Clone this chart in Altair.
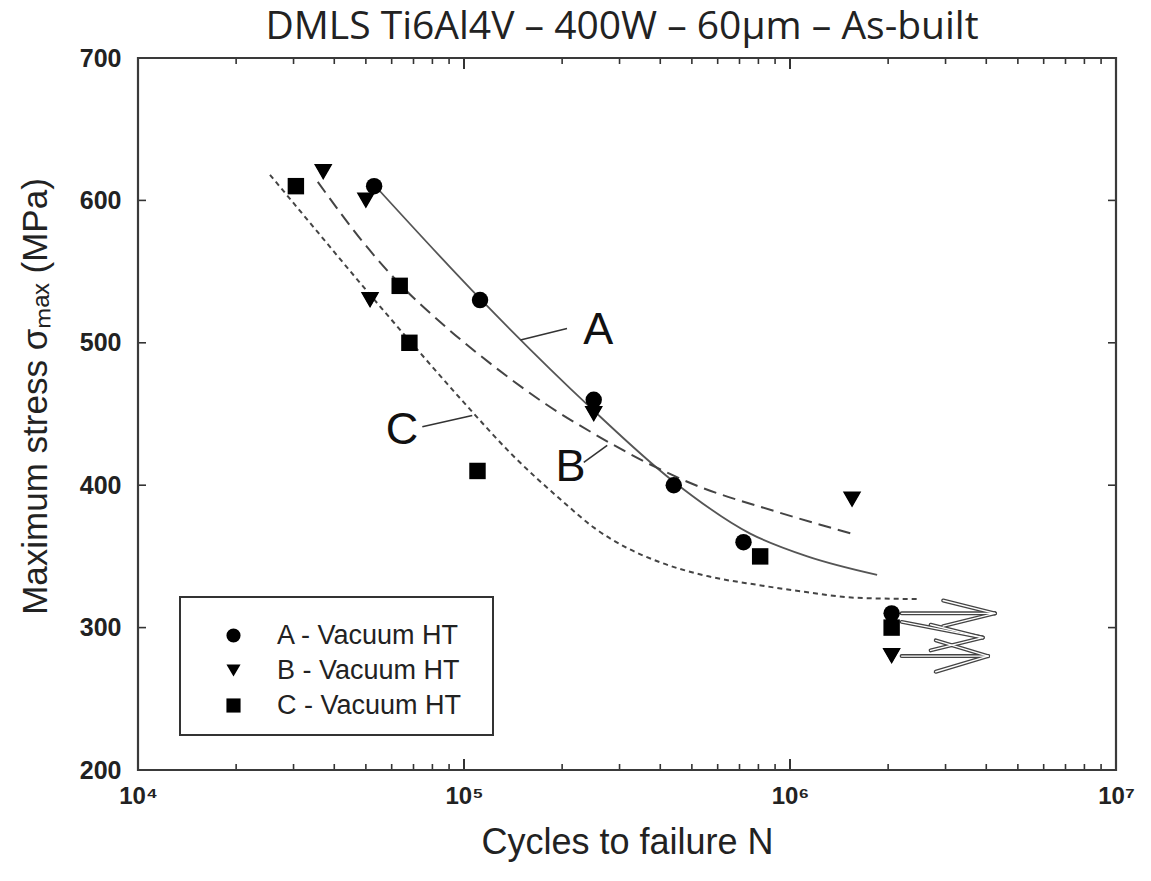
import altair as alt
import pandas as pd

# ---------------- text ----------------
TITLE = "DMLS Ti6Al4V – 400W – 60μm – As-built"
X_TITLE = "Cycles to failure N"
Y_TITLE = "Maximum stress σₘₐₓ (MPa)"
SERIES = ["A - Vacuum HT", "B - Vacuum HT", "C - Vacuum HT"]
SHAPES = ["circle", "triangle-down", "square"]

# ---------------- measured points ----------------
a_cycles = [5.3e4, 1.12e5, 2.5e5, 4.4e5, 7.2e5, 2.05e6]
a_stress = [610, 530, 460, 400, 360, 310]
b_cycles = [3.7e4, 5.0e4, 5.15e4, 2.5e5, 1.55e6, 2.05e6]
b_stress = [620, 600, 530, 450, 390, 280]
c_cycles = [3.05e4, 6.35e4, 6.8e4, 1.1e5, 8.1e5, 2.05e6]
c_stress = [610, 540, 500, 410, 350, 300]

# ---------------- fitted curves ----------------
curve_a_cycles = [5.3e4, 1.12e5, 2.43e5, 4.37e5, 7.55e5, 1.13e6, 1.85e6]
curve_a_stress = [611, 531, 455, 403, 366, 350, 337]
curve_b_cycles = [3.56e4, 5.01e4, 6.31e4, 8.91e4, 1.26e5, 1.78e5, 2.51e5, 3.55e5, 5.01e5, 8.91e5, 1.6e6]
curve_b_stress = [613, 568, 542, 510, 482, 457, 436, 417, 401, 382, 365]
curve_c_cycles = [2.54e4, 3.55e4, 5.01e4, 7.08e4, 1.0e5, 1.41e5, 2.0e5, 2.51e5, 3.16e5, 3.98e5,
                  5.62e5, 7.94e5, 1.12e6, 1.58e6, 2.51e6]
curve_c_stress = [618, 578, 537, 497, 458, 421, 389, 370, 356, 346, 336, 330, 325, 321, 320]

# ---------------- curve labels and leaders ----------------
label_text = ["A", "B", "C"]
label_cycles = [2.58e5, 2.12e5, 6.45e4]
label_stress = [509, 413, 439]
leader_x1 = [1.49e5, 2.33e5, 7.45e4]
leader_y1 = [502, 416, 441]
leader_x2 = [2.07e5, 2.75e5, 1.06e5]
leader_y2 = [510, 428, 449]

# ---------------- run-out arrows (A, C, B) ----------------
arrow_x0 = [2.2e6, 2.2e6, 2.2e6]
arrow_y0 = [310, 304, 280]
arrow_xt = [4.25e6, 3.9e6, 4.05e6]
arrow_yt = [310, 293, 280]
arm_xb = [2.95e6, 2.7e6, 2.8e6]
arm_up = [319, 302, 291]
arm_lo = [301, 284, 269]

# ---------------- axes ----------------
x_tick_values = [1e4, 1e5, 1e6, 1e7]
x_tick_labels = ["10⁴", "10⁵", "10⁶", "10⁷"]
x_minor_ticks = [m * 10 ** k for k in (4, 5, 6) for m in range(2, 10)]
y_tick_values = [200, 300, 400, 500, 600, 700]

W, H = 978, 712
FONT = "Liberation Sans"

label_expr = ""
for v, t in zip(x_tick_values[:-1], x_tick_labels[:-1]):
    label_expr += f"datum.value < {v * 3.0} ? '{t}' : "
label_expr += f"'{x_tick_labels[-1]}'"

xscale = alt.Scale(type="log", domain=[1e4, 1e7], nice=False)
yscale = alt.Scale(domain=[200, 700], nice=False, zero=False)
xaxis = alt.Axis(values=x_tick_values, labelExpr=label_expr, ticks=False, domain=False,
                 grid=False, labelFont=FONT, labelFontSize=24, labelFontWeight="bold",
                 labelColor="#222", labelPadding=14, title=X_TITLE, titleFont=FONT,
                 titleFontSize=36, titleFontWeight="normal", titleColor="#222",
                 titleY=72, titleBaseline="middle", labelFlush=False)
yaxis = alt.Axis(values=y_tick_values, ticks=False, domain=False, grid=False,
                 labelFont=FONT, labelFontSize=25, labelFontWeight="bold", labelColor="#222",
                 labelPadding=17, title=Y_TITLE, titleFont=FONT, titleFontSize=35,
                 titleFontWeight="normal", titleColor="#222", titleX=-103, titleY=338,
                 titleAngle=270, titleAlign="center", titleBaseline="middle", labelFlush=False)


def X(field):
    return alt.X(f"{field}:Q", scale=xscale, axis=xaxis)


def Y(field):
    return alt.Y(f"{field}:Q", scale=yscale, axis=yaxis)


# data frames
pts = pd.DataFrame({
    "n": a_cycles + b_cycles + c_cycles,
    "s": a_stress + b_stress + c_stress,
    "series": [SERIES[0]] * len(a_cycles) + [SERIES[1]] * len(b_cycles) + [SERIES[2]] * len(c_cycles),
})
ptsB = pd.DataFrame({"n": b_cycles, "s": b_stress})
cA = pd.DataFrame({"n": curve_a_cycles, "s": curve_a_stress})
cB = pd.DataFrame({"n": curve_b_cycles, "s": curve_b_stress})
cC = pd.DataFrame({"n": curve_c_cycles, "s": curve_c_stress})
labels = pd.DataFrame({"n": label_cycles, "s": label_stress, "t": label_text})
leaders = pd.DataFrame({"x1": leader_x1, "y1": leader_y1, "x2": leader_x2, "y2": leader_y2})

seg_rows = []
for i in range(3):
    seg_rows.append({"x1": arrow_x0[i], "y1": arrow_y0[i], "x2": arrow_xt[i], "y2": arrow_yt[i]})
    seg_rows.append({"x1": arm_xb[i], "y1": arm_up[i], "x2": arrow_xt[i], "y2": arrow_yt[i]})
    seg_rows.append({"x1": arm_xb[i], "y1": arm_lo[i], "x2": arrow_xt[i], "y2": arrow_yt[i]})
arrows = pd.DataFrame(seg_rows)

xmaj = pd.DataFrame({"v": x_tick_values})
xmin = pd.DataFrame({"v": x_minor_ticks})
yt = pd.DataFrame({"v": y_tick_values[1:-1]})
one = pd.DataFrame({"k": [0]})

# title (as text above the frame)
title = alt.Chart(one).mark_text(text=TITLE, font="Open Sans", fontSize=39, color="#222",
                                 align="center", baseline="alphabetic").encode(
    x=alt.value(484), y=alt.value(-19))

# frame
frame = alt.Chart(one).mark_rect(fill="transparent", stroke="#3a3a3a", strokeWidth=2.2).encode(
    x=alt.value(0), x2=alt.value(W), y=alt.value(0), y2=alt.value(H))

# legend box
box = alt.Chart(one).mark_rect(fill="white", stroke="#333", strokeWidth=2).encode(
    x=alt.value(42), x2=alt.value(355), y=alt.value(539), y2=alt.value(677))

# inner ticks
tick_col = "#333"
t_bot_maj = alt.Chart(xmaj).mark_rule(color=tick_col, strokeWidth=2).encode(
    x=X("v"), y=alt.value(H), y2=alt.value(H - 11))
t_top_maj = alt.Chart(xmaj).mark_rule(color=tick_col, strokeWidth=2).encode(
    x=X("v"), y=alt.value(0), y2=alt.value(11))
t_bot_min = alt.Chart(xmin).mark_rule(color=tick_col, strokeWidth=1.6).encode(
    x=X("v"), y=alt.value(H), y2=alt.value(H - 6))
t_top_min = alt.Chart(xmin).mark_rule(color=tick_col, strokeWidth=1.6).encode(
    x=X("v"), y=alt.value(0), y2=alt.value(6))
t_left = alt.Chart(yt).mark_rule(color=tick_col, strokeWidth=1.6).encode(
    y=Y("v"), x=alt.value(0), x2=alt.value(8))
t_right = alt.Chart(yt).mark_rule(color=tick_col, strokeWidth=1.6).encode(
    y=Y("v"), x=alt.value(W), x2=alt.value(W - 8))

# curves
lineA = alt.Chart(cA).mark_line(color="#555", strokeWidth=1.8, interpolate="monotone").encode(
    x=X("n"), y=Y("s"), order="n:Q")
lineB = alt.Chart(cB).mark_line(color="#444", strokeWidth=2, strokeDash=[13, 7],
                                interpolate="monotone").encode(x=X("n"), y=Y("s"), order="n:Q")
lineC = alt.Chart(cC).mark_line(color="#444", strokeWidth=2, strokeDash=[5, 4],
                                interpolate="monotone").encode(x=X("n"), y=Y("s"), order="n:Q")

# leaders + labels
lead = alt.Chart(leaders).mark_rule(color="#333", strokeWidth=1.6).encode(
    x=X("x1"), y=Y("y1"), x2="x2:Q", y2="y2:Q")
txt = alt.Chart(labels).mark_text(font=FONT, fontSize=45, color="#111", align="center",
                                  baseline="middle").encode(x=X("n"), y=Y("s"), text="t:N")

# run-out arrows (hollow look)
arr_outer = alt.Chart(arrows).mark_rule(color="#444", strokeWidth=4, strokeCap="round").encode(
    x=X("x1"), y=Y("y1"), x2="x2:Q", y2="y2:Q")
arr_inner = alt.Chart(arrows).mark_rule(color="white", strokeWidth=1.4, strokeCap="round").encode(
    x=X("x1"), y=Y("y1"), x2="x2:Q", y2="y2:Q")

points = alt.Chart(pts).mark_point(filled=True, opacity=1, color="black", size=270).encode(
    x=X("n"), y=Y("s"),
    shape=alt.Shape("series:N", scale=alt.Scale(domain=SERIES, range=SHAPES),
                    legend=alt.Legend(title=None, orient="none", legendX=82, legendY=564,
                                      labelFont=FONT, labelFontSize=27, labelColor="#222",
                                      labelLimit=400, symbolSize=200, symbolFillColor="black",
                                      symbolStrokeColor="black", symbolStrokeWidth=0,
                                      labelOffset=30, rowPadding=7, padding=0)),
)
# triangles are drawn a little larger in the original
pointsB = alt.Chart(ptsB).mark_point(filled=True, opacity=1, color="black", size=340,
                                     shape="triangle-down").encode(x=X("n"), y=Y("s"))

chart = alt.layer(
    box, t_bot_maj, t_top_maj, t_bot_min, t_top_min, t_left, t_right,
    lineA, lineB, lineC, lead, txt, arr_outer, arr_inner, points, pointsB, frame, title
).properties(
    width=W, height=H,
    autosize=alt.AutoSizeParams(type="none"),
    padding={"left": 130, "top": 50, "right": 22, "bottom": 95},
).configure_view(stroke="transparent").configure(background="white")

chart.save("out.html", embed_options={"renderer": "svg", "actions": False})
